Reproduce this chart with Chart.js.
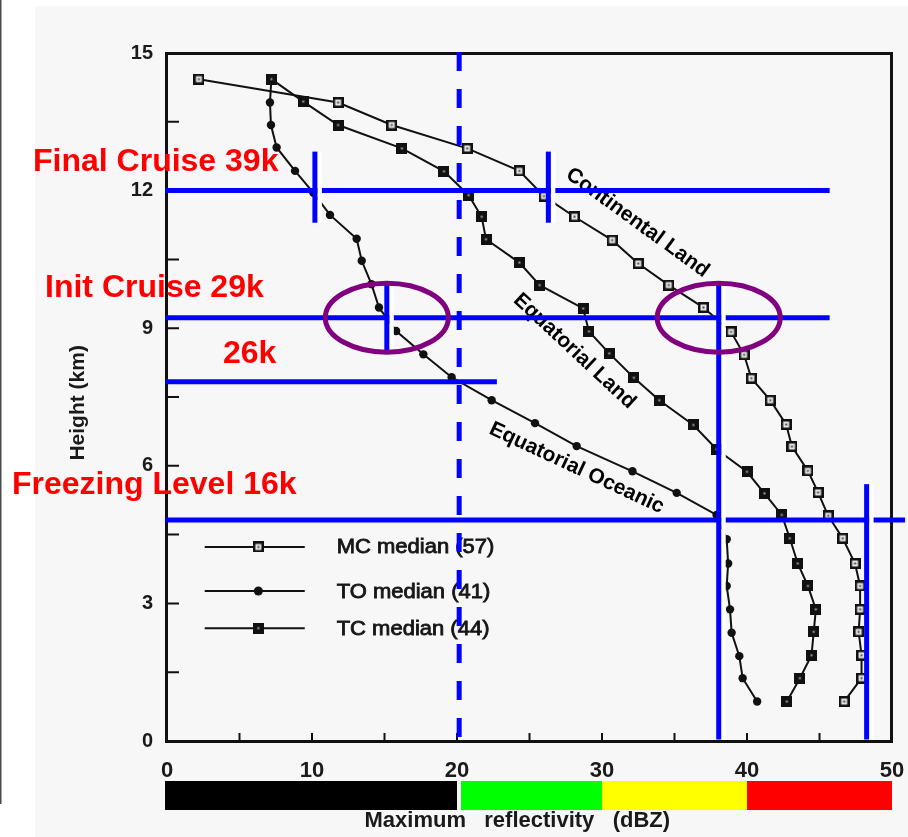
<!DOCTYPE html>
<html>
<head>
<meta charset="utf-8">
<script src="https://cdn.jsdelivr.net/npm/chart.js@4.4.1/dist/chart.umd.min.js"></script>
<style>
  html, body { margin: 0; padding: 0; background: #ffffff; overflow: hidden; }
  canvas { display: block; }
</style>
</head>
<body>
<canvas id="profiles" width="908" height="837"></canvas>
<script>
// Median maximum-reflectivity profiles: height (km) and reflectivity (dBZ)
const mcHeight = [14.43, 13.92, 13.43, 12.92, 12.43, 11.88, 11.43, 10.92, 10.41, 9.94, 9.45, 8.92, 8.42, 7.91, 7.43, 6.90, 6.42, 5.89, 5.42, 4.91, 4.42, 3.87, 3.38, 2.87, 2.38, 1.87, 1.37, 0.86];
const mcDbz    = [2.2, 11.8, 15.5, 20.7, 24.3, 26.0, 28.1, 30.7, 32.5, 34.6, 37.0, 38.9, 39.8, 40.3, 41.6, 42.7, 43.1, 44.2, 44.9, 45.6, 46.6, 47.45, 47.8, 47.8, 47.7, 47.9, 47.9, 46.7];

const toHeight = [14.43, 13.92, 13.43, 12.94, 12.43, 11.95, 11.47, 10.95, 10.47, 9.96, 9.45, 8.94, 8.43, 7.93, 7.43, 6.93, 6.43, 5.88, 5.41, 4.93, 4.40, 3.87, 3.38, 2.87, 2.36, 1.85, 1.37, 0.86];
const toDbz    = [7.2, 7.1, 7.17, 7.56, 8.83, 10.1, 11.24, 13.08, 13.43, 14.1, 14.62, 15.8, 17.68, 19.63, 22.39, 25.38, 28.25, 32.1, 35.15, 37.9, 38.6, 38.7, 38.6, 38.83, 38.94, 39.47, 39.7, 40.7];

const tcHeight = [14.43, 13.94, 13.43, 12.92, 12.42, 11.90, 11.43, 10.94, 10.43, 9.94, 9.43, 8.93, 8.45, 7.92, 7.43, 6.89, 6.36, 5.87, 5.40, 4.93, 4.42, 3.87, 3.38, 2.87, 2.38, 1.87, 1.37, 0.86];
const tcDbz    = [7.2, 9.4, 11.8, 16.2, 19.1, 20.8, 21.7, 22.0, 24.3, 25.7, 28.7, 29.1, 30.5, 32.2, 33.95, 36.3, 37.9, 40.0, 41.2, 42.4, 42.95, 43.5, 44.2, 44.75, 44.6, 44.45, 43.65, 42.75];

const seriesLabels = ['MC median (57)', 'TO median (41)', 'TC median (44)'];
const regimeNames  = ['Continental Land', 'Equatorial Oceanic', 'Equatorial Land'];

// Flight levels (km) and their captions
const levelLabels = ['Final Cruise 39k', 'Init Cruise 29k', '26k', 'Freezing Level 16k'];
const levelKm     = [12.0, 9.23, 7.83, 4.82];

// Reflectivity markers (dBZ)
const cruiseMarksDbz = [10.2, 26.3, 15.16, 38.05, 48.25];
const referenceDbz   = 20.15;

// Reflectivity colour scale under the axis
const bandEdges  = [0, 20, 30, 40, 50];
const bandColors = ['#000000', '#00ff00', '#ffff00', '#ff0000'];

const FONT = '"Liberation Sans", Arial, Helvetica, sans-serif';
const PAPER = '#f7f7f7';
const INK = '#111111';

function toPoints(xs, ys) { return xs.map((v, i) => ({ x: v, y: ys[i] })); }

// square markers drawn once into small canvases
function squareMarker(filled) {
  const c = document.createElement('canvas');
  c.width = 11; c.height = 11;
  const g = c.getContext('2d');
  g.fillStyle = INK;
  g.fillRect(0, 0, 11, 11);
  if (!filled) {
    g.fillStyle = '#e8e8e8';
    g.fillRect(2.5, 2.5, 6, 6);
    g.fillStyle = '#444444';
    g.fillRect(4.5, 4.5, 2, 2);
  } else {
    g.fillStyle = '#aaaaaa';
    g.fillRect(4.5, 4.5, 2, 2);
  }
  return c;
}
const openSquare = squareMarker(false);
const solidSquare = squareMarker(true);

const paperPlugin = {
  id: 'paper',
  beforeDraw(chart) {
    const { ctx, width, height } = chart;
    ctx.save();
    ctx.fillStyle = '#ffffff';
    ctx.fillRect(0, 0, width, height);
    ctx.fillStyle = PAPER;
    ctx.fillRect(35, 6, width - 35, height - 6);
    ctx.fillStyle = '#4a4a4a';
    ctx.fillRect(0, 0, 1.5, 804);
    ctx.restore();
  }
};

const framePlugin = {
  id: 'frame',
  beforeDatasetsDraw(chart) {
    const { ctx, chartArea: a, scales: { x, y } } = chart;
    ctx.save();
    ctx.strokeStyle = INK;
    ctx.lineWidth = 3;
    ctx.strokeRect(a.left - 0.5, a.top + 0.5, a.right - a.left, a.bottom - a.top);
    ctx.lineWidth = 2;
    ctx.beginPath();
    x.ticks.forEach(t => {
      const p = x.getPixelForValue(t.value);
      ctx.moveTo(p, a.bottom);
      ctx.lineTo(p, a.bottom - 8);
    });
    y.ticks.forEach(t => {
      const p = y.getPixelForValue(t.value);
      ctx.moveTo(a.left, p);
      ctx.lineTo(a.left + 12, p);
    });
    ctx.stroke();

    // colour scale bar
    const top = 781, h = 29;
    for (let i = 0; i < bandColors.length; i++) {
      let x0 = x.getPixelForValue(bandEdges[i]);
      const x1 = x.getPixelForValue(bandEdges[i + 1]);
      if (i === 0) x0 -= 2;
      if (i === 1) x0 += 4;
      ctx.fillStyle = bandColors[i];
      ctx.fillRect(x0, top, x1 - x0, h);
    }
    ctx.restore();
  }
};

const annotationPlugin = {
  id: 'annotations',
  afterDatasetsDraw(chart) {
    const { ctx, chartArea: a, scales: { x, y } } = chart;
    const X = v => x.getPixelForValue(v);
    const Y = v => y.getPixelForValue(v);
    ctx.save();

    // legend inside the plot
    const rows = [4.23, 3.27, 2.46];
    chart.data.datasets.forEach((ds, i) => {
      const py = Y(rows[i]);
      ctx.strokeStyle = INK;
      ctx.lineWidth = 2;
      ctx.beginPath();
      ctx.moveTo(X(2.6), py);
      ctx.lineTo(X(9.5), py);
      ctx.stroke();
      const mx = X(6.3);
      if (ds.pointStyle === 'circle') {
        ctx.fillStyle = INK;
        ctx.beginPath();
        ctx.arc(mx, py, 4.5, 0, Math.PI * 2);
        ctx.fill();
      } else {
        ctx.drawImage(ds.pointStyle, mx - 5.5, py - 5.5);
      }
      ctx.save();
      ctx.translate(X(11.7), py);
      ctx.scale(1.1, 1);
      ctx.font = '20px ' + FONT;
      ctx.fillStyle = '#161616';
      ctx.strokeStyle = '#161616';
      ctx.lineWidth = 0.8;
      ctx.textBaseline = 'middle';
      ctx.textAlign = 'left';
      ctx.fillText(ds.label, 0, 1);
      ctx.strokeText(ds.label, 0, 1);
      ctx.restore();
    });

    // regime names along the curves
    const namePos = [[32.45, 11.3, 36], [28.25, 5.95, 25], [28.1, 8.5, 43]];
    ctx.font = 'bold 21px ' + FONT;
    ctx.fillStyle = '#000000';
    ctx.textAlign = 'center';
    ctx.textBaseline = 'middle';
    regimeNames.forEach((name, i) => {
      const [vx, vy, deg] = namePos[i];
      ctx.save();
      ctx.translate(X(vx), Y(vy));
      ctx.rotate(deg * Math.PI / 180);
      ctx.fillText(name, 0, 0);
      ctx.restore();
    });

    const BLUE = '#0000ff';
    // dashed reference line
    ctx.strokeStyle = BLUE;
    ctx.lineWidth = 5;
    ctx.setLineDash([19, 18]);
    ctx.beginPath();
    ctx.moveTo(X(referenceDbz), a.top - 1);
    ctx.lineTo(X(referenceDbz), a.bottom);
    ctx.stroke();
    ctx.setLineDash([]);

    // flight level lines
    const levelEnds = [45.7, 45.7, 22.75, 50.9];
    levelKm.forEach((km, i) => {
      ctx.beginPath();
      ctx.moveTo(a.left - 2, Y(km));
      ctx.lineTo(X(levelEnds[i]), Y(km));
      ctx.stroke();
    });

    // vertical marks with a paper-white edge on their right
    const markSpans = [[11.3, 12.85], [11.3, 12.85], [8.5, 9.95], [0, 9.95], [0, 5.6]];
    cruiseMarksDbz.forEach((v, i) => {
      const px = X(v);
      const y0 = Y(markSpans[i][1]);
      const y1 = Math.min(Y(markSpans[i][0]), a.bottom - 1.5);
      ctx.fillStyle = '#ffffff';
      ctx.fillRect(px + 2.5, y0, 4.5, y1 - y0);
      ctx.fillStyle = BLUE;
      ctx.fillRect(px - 2.5, y0, 5, y1 - y0);
    });

    // circled crossings at the initial cruise level
    ctx.strokeStyle = '#800080';
    ctx.lineWidth = 5;
    [cruiseMarksDbz[2], cruiseMarksDbz[3]].forEach(v => {
      ctx.beginPath();
      ctx.ellipse(X(v), Y(levelKm[1]), 61.5, 34.5, 0, 0, Math.PI * 2);
      ctx.stroke();
    });

    // level captions
    ctx.font = 'bold 32px ' + FONT;
    ctx.fillStyle = '#ff0000';
    ctx.textAlign = 'left';
    ctx.textBaseline = 'alphabetic';
    const captionX = [33, 45, 223, 12];
    const captionRise = [20, 21, 19, 26];
    levelLabels.forEach((t, i) => {
      ctx.fillText(t, captionX[i], Y(levelKm[i]) - captionRise[i]);
    });
    ctx.restore();
  }
};

const lineStyle = { showLine: true, borderColor: INK, borderWidth: 2, tension: 0 };

new Chart(document.getElementById('profiles'), {
  type: 'scatter',
  data: {
    datasets: [
      { ...lineStyle, label: seriesLabels[0], data: toPoints(mcDbz, mcHeight),
        pointStyle: openSquare, pointRadius: 6, order: 0 },
      { ...lineStyle, label: seriesLabels[1], data: toPoints(toDbz, toHeight),
        pointStyle: 'circle', pointRadius: 4.2, pointBackgroundColor: INK, pointBorderWidth: 0, order: 2 },
      { ...lineStyle, label: seriesLabels[2], data: toPoints(tcDbz, tcHeight),
        pointStyle: solidSquare, pointRadius: 6, order: 1 }
    ]
  },
  options: {
    responsive: false,
    animation: false,
    devicePixelRatio: 1,
    events: [],
    layout: { padding: { top: 53, right: 16, left: 62, bottom: 0 } },
    scales: {
      x: {
        type: 'linear', position: 'bottom', min: 0, max: 50,
        grid: { display: false, drawTicks: true, tickLength: 17 },
        border: { display: false },
        ticks: {
          stepSize: 5, autoSkip: false, maxRotation: 0, padding: 0,
          color: '#1a1a1a', font: { family: FONT, size: 22, weight: 'bold' },
          callback: v => (v % 10 === 0 ? String(v) : '')
        },
        title: {
          display: true, text: 'Maximum   reflectivity   (dBZ)    ',
          color: '#1a1a1a', font: { family: FONT, size: 22, weight: 'bold' },
          padding: { top: 0, bottom: 3 }
        },
        afterFit: s => { s.height = 96; }
      },
      y: {
        type: 'linear', position: 'left', min: 0, max: 15,
        grid: { display: false, drawTicks: true, tickLength: 14 },
        border: { display: false },
        ticks: {
          stepSize: 1.5, autoSkip: false, padding: 0,
          color: '#1a1a1a', font: { family: FONT, size: 20, weight: 'bold' },
          callback: v => (Math.abs(v / 3 - Math.round(v / 3)) < 1e-6 ? String(Math.round(v)) : '')
        },
        title: {
          display: true, text: 'Height (km)  ',
          color: '#1a1a1a', font: { family: FONT, size: 21, weight: 'bold' },
          padding: { top: 4, bottom: 0 }
        },
        afterFit: s => { s.width = 105; }
      }
    },
    plugins: { legend: { display: false }, tooltip: { enabled: false } }
  },
  plugins: [paperPlugin, framePlugin, annotationPlugin]
});
</script>
</body>
</html>
